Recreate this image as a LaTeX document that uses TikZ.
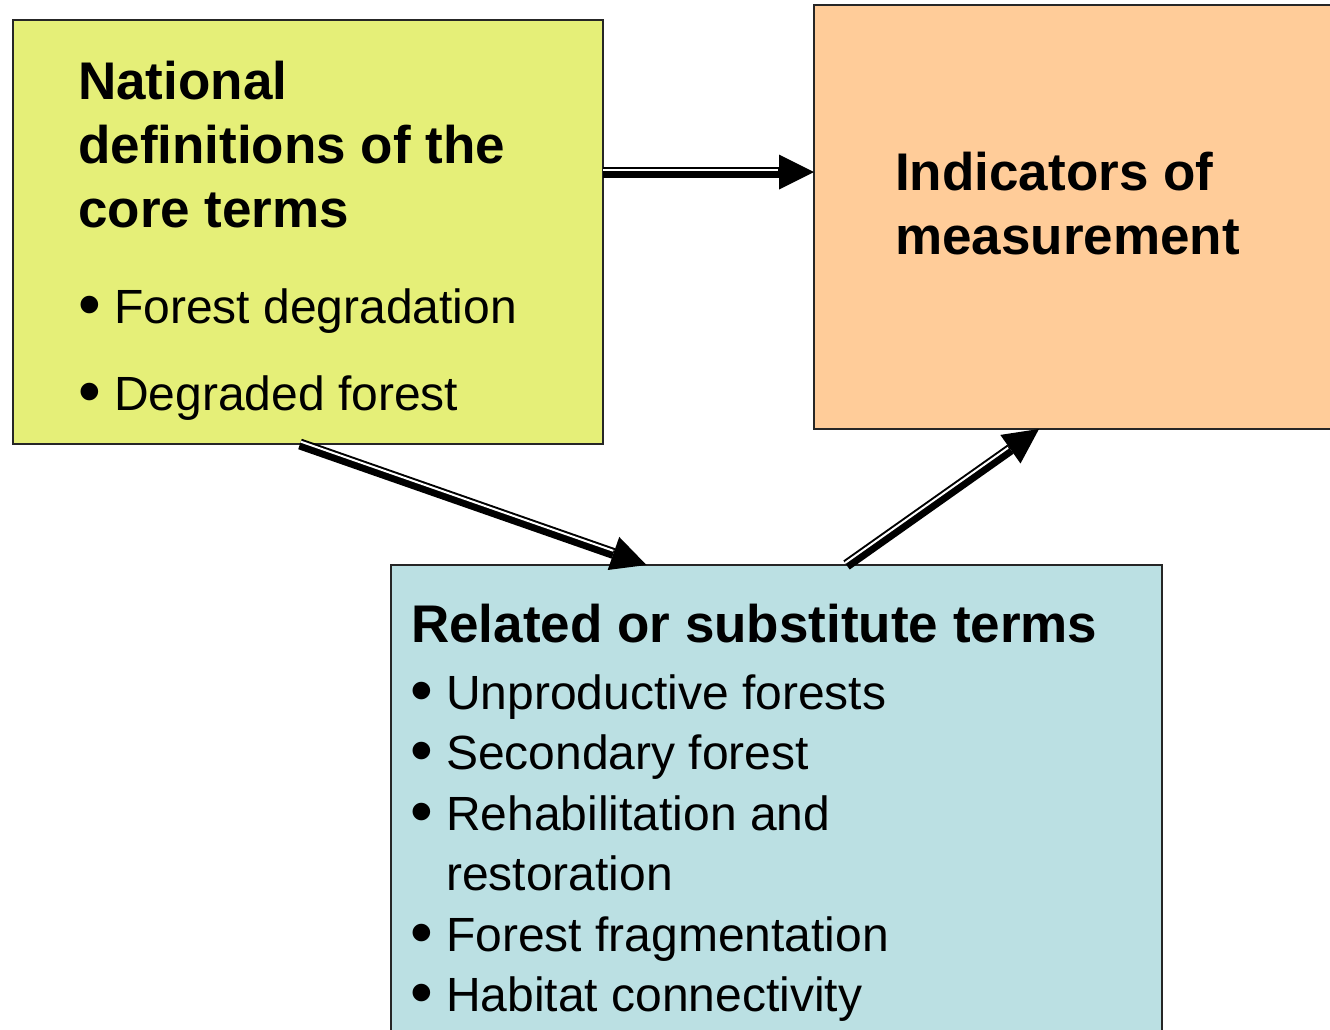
\documentclass[tikz,border=0pt]{standalone}
\usepackage{fontspec}
\usepackage{graphicx}
\setmainfont{Liberation Sans}
\usetikzlibrary{arrows.meta,calc}
\definecolor{natyellow}{RGB}{229,239,120}
\definecolor{indorange}{RGB}{255,204,153}
\definecolor{relblue}{RGB}{187,224,227}
\newcommand{\itemdot}{\makebox[36pt][l]{\raisebox{-3pt}{\scalebox{1.35}{\textbullet}}}}
% thick arrow with a thin line on its left side
\newcommand{\shadearrow}[2]{%
  \draw[line width=11pt, -{Triangle[length=35pt,width=35pt,line width=0pt]}] (#1) -- (#2);
  \draw[white, line width=2pt] ($(#1)!2.5pt!90:(#2)$) -- ($($(#2)!36pt!(#1)$)!2.5pt!-90:(#1)$);
}
\begin{document}
\begin{tikzpicture}[x=1pt, y=-1pt,
    box/.style={draw=black!85, line width=1.5pt, inner sep=0pt, outer sep=0pt, anchor=north west},
    txt/.style={anchor=base west, inner sep=0pt, align=left},
    head/.style={txt, font=\fontsize{53}{64}\selectfont\bfseries},
    item/.style={txt, font=\fontsize{48}{60.5}\selectfont}]
  \useasboundingbox (0,0) rectangle (1330,1029);
  % boxes
  \node[box, fill=natyellow, minimum width=590pt, minimum height=424pt] (nat) at (13,20) {};
  \node[box, fill=indorange, minimum width=530pt, minimum height=424pt] (ind) at (814,5) {};
  \node[box, fill=relblue, minimum width=771pt, minimum height=480pt] (rel) at (391,565) {};
  % texts (base = baseline of the last line)
  \node[head] (natT) at (78,227) {National\\definitions of the\\core terms};
  \node[item, font=\fontsize{48}{87}\selectfont] (natL) at (78,410)
    {\itemdot Forest degradation\\\itemdot Degraded forest};
  \node[head] (indT) at (895,254) {Indicators of\\measurement};
  \node[head] (relT) at (411,642) {Related or substitute terms};
  \node[item] (relL) at (410,1011.5)
    {\itemdot Unproductive forests\\\itemdot Secondary forest\\\itemdot Rehabilitation and\\
     \hspace*{36pt}restoration\\\itemdot Forest fragmentation\\\itemdot Habitat connectivity};
  % arrows
  \coordinate (a1s) at ([yshift=60pt]nat.east);
  \coordinate (a1e) at ([yshift=45pt]ind.west);
  \coordinate (a2s) at ([xshift=-8pt]nat.south);
  \coordinate (a2e) at ([xshift=-130pt]rel.north);
  \coordinate (a3s) at ([xshift=70pt]rel.north);
  \coordinate (a3e) at ([xshift=-40pt]ind.south);
  \shadearrow{a1s}{a1e}
  \shadearrow{a2s}{a2e}
  \shadearrow{a3s}{a3e}
\end{tikzpicture}
\end{document}
